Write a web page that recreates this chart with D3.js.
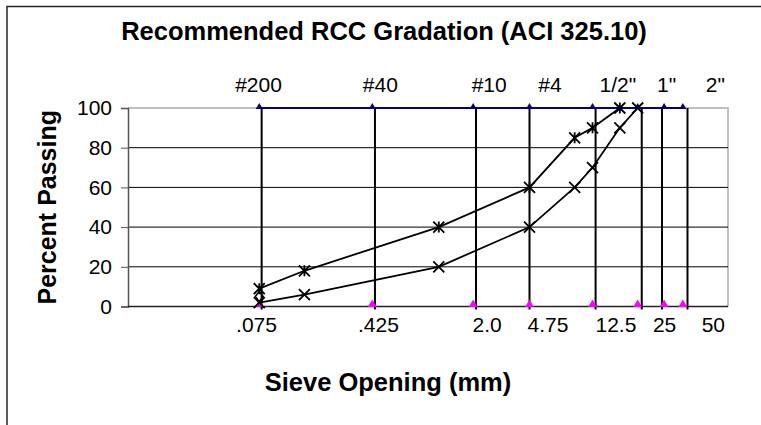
<!DOCTYPE html>
<html>
<head>
<meta charset="utf-8">
<script src="https://cdn.jsdelivr.net/npm/d3@7"></script>
<style>
  html, body { margin: 0; padding: 0; background: #fff; }
  svg { display: block; }
  text { font-family: "Liberation Sans", Arial, sans-serif; }
</style>
</head>
<body>
<svg id="chart" width="761" height="425"></svg>
<script>
// ---- data ----
const chartTitle = "Recommended RCC Gradation (ACI 325.10)";
const yTitle = "Percent Passing";
const xTitle = "Sieve Opening (mm)";

const yTicks = [0, 20, 40, 60, 80, 100];

// sieve marker series (triangles at 100 % and 0 %)
const sieveSizes = [0.075, 0.425, 2.0, 4.75, 12.5, 25, 37.5, 50];
// vertical sieve lines (mm)
const sieveLineSizes = [0.0778, 0.443, 2.09, 4.75, 13.1, 26.6, 36.3, 53.7];

// labels
const labelSizes = [0.075, 0.425, 2.0, 4.75, 12.5, 25, 50];
const bottomLabels = [".075", ".425", "2.0", "4.75", "12.5", "25", "50"];
const topLabels = ["#200", "#40", "#10", "#4", "1/2\"", "1\"", "2\""];

// gradation band limits
const upperSizes   = [0.075, 0.15, 1.18, 4.75, 9.5, 12.5, 19];
const upperPassing = [9, 18, 40, 60, 85, 90, 100];
const lowerSizes   = [0.075, 0.15, 1.18, 4.75, 9.5, 12.5, 19, 25];
const lowerPassing = [2, 6, 20, 40, 60, 70, 90, 100];
// single diamond point
const midSizes = [0.075];
const midPassing = [5];

// ---- layout ----
const svg = d3.select("#chart");
const plot = { left: 128, right: 728, top: 108, bottom: 306.5 };

const x = d3.scaleLog().domain([0.01, 100]).range([plot.left, plot.right]);
const xLab = d3.scaleLog().domain([0.01, 100]).range([115, 762]);
const y = d3.scaleLinear().domain([0, 100]).range([plot.bottom, plot.top]);

// outer frame (top and left edges visible)
svg.append("path")
  .attr("d", "M7,425 L7,6.5 L761,6.5")
  .attr("fill", "none").attr("stroke", "#222").attr("stroke-width", 1.5);

// title
svg.append("text").attr("x", 384).attr("y", 40)
  .attr("text-anchor", "middle").attr("font-size", 25.5).attr("font-weight", "bold")
  .text(chartTitle);

// plot border (light gray top/right)
svg.append("path")
  .attr("d", `M${plot.left},${plot.top} L${plot.right},${plot.top} L${plot.right},${plot.bottom}`)
  .attr("fill", "none").attr("stroke", "#c0c0c0").attr("stroke-width", 2);

// horizontal gridlines
svg.append("g").selectAll("line")
  .data(yTicks.filter(d => d > 0 && d < 100))
  .join("line")
  .attr("x1", plot.left).attr("x2", plot.right)
  .attr("y1", d => y(d)).attr("y2", d => y(d))
  .attr("stroke", "#000").attr("stroke-width", 1);

// y axis
const yAxis = d3.axisLeft(y).tickValues(yTicks).tickSize(7).tickPadding(9);
const gy = svg.append("g").attr("transform", `translate(${plot.left},0)`).call(yAxis);
gy.select(".domain").attr("stroke", "#555").attr("stroke-width", 1.5);
gy.selectAll(".tick line").attr("stroke", "#555");
gy.selectAll(".tick text").attr("font-size", 21).attr("fill", "#000")
  .attr("font-family", "Liberation Sans, Arial, sans-serif");

// bottom axis line
svg.append("line")
  .attr("x1", plot.left).attr("x2", plot.right)
  .attr("y1", plot.bottom).attr("y2", plot.bottom)
  .attr("stroke", "#222").attr("stroke-width", 1.5);

// vertical sieve lines
svg.append("g").selectAll("line")
  .data(sieveLineSizes)
  .join("line")
  .attr("x1", d => x(d)).attr("x2", d => x(d))
  .attr("y1", y(100)).attr("y2", y(0) + 3)
  .attr("stroke", "#000").attr("stroke-width", 2);

// blue line at 100%
svg.append("path")
  .datum(sieveSizes)
  .attr("d", d3.line().x(d => x(d)).y(() => y(100)))
  .attr("fill", "none").attr("stroke", "#000080").attr("stroke-width", 2);

const tri = d3.symbol().type(d3.symbolTriangle);
svg.append("g").selectAll("path")
  .data(sieveSizes)
  .join("path")
  .attr("transform", d => `translate(${x(d)},${y(100) - 1})`)
  .attr("d", tri.size(22)())
  .attr("fill", "#000080");

svg.append("g").selectAll("path")
  .data(sieveSizes)
  .join("path")
  .attr("transform", d => `translate(${x(d)},${y(0) - 2})`)
  .attr("d", tri.size(34)())
  .attr("fill", "#ff00ff");

// gradation curves
const line = d3.line().x(d => x(d[0])).y(d => y(d[1]));
const upper = upperSizes.map((s, i) => [s, upperPassing[i]]);
const lower = lowerSizes.map((s, i) => [s, lowerPassing[i]]);
const mid = midSizes.map((s, i) => [s, midPassing[i]]);

[upper, lower].forEach(data => {
  svg.append("path").datum(data).attr("d", line)
    .attr("fill", "none").attr("stroke", "#000").attr("stroke-width", 1.8);
});

const m = 5.5;
// asterisk markers (upper)
svg.append("g").selectAll("path")
  .data(upper).join("path")
  .attr("transform", d => `translate(${x(d[0])},${y(d[1])})`)
  .attr("d", `M${-m},${-m}L${m},${m}M${-m},${m}L${m},${-m}M0,${-m}L0,${m}`)
  .attr("stroke", "#000").attr("stroke-width", 1.8).attr("fill", "none");
// x markers (lower)
svg.append("g").selectAll("path")
  .data(lower).join("path")
  .attr("transform", d => `translate(${x(d[0])},${y(d[1])})`)
  .attr("d", `M${-m},${-m}L${m},${m}M${-m},${m}L${m},${-m}`)
  .attr("stroke", "#000").attr("stroke-width", 1.8).attr("fill", "none");
// diamond marker
svg.append("g").selectAll("path")
  .data(mid).join("path")
  .attr("transform", d => `translate(${x(d[0])},${y(d[1])})`)
  .attr("d", "M0,-5L4,0L0,5L-4,0Z")
  .attr("stroke", "#000").attr("stroke-width", 1.5).attr("fill", "none");

// labels
svg.append("g").selectAll("text")
  .data(labelSizes).join("text")
  .attr("x", d => xLab(d)).attr("y", 332)
  .attr("text-anchor", "middle").attr("font-size", 21)
  .text((d, i) => bottomLabels[i]);

svg.append("g").selectAll("text")
  .data(labelSizes).join("text")
  .attr("x", d => xLab(d) + 2).attr("y", 92)
  .attr("text-anchor", "middle").attr("font-size", 21)
  .text((d, i) => topLabels[i]);

// axis titles
svg.append("text")
  .attr("transform", `translate(56,${(plot.top + plot.bottom) / 2}) rotate(-90)`)
  .attr("text-anchor", "middle").attr("font-size", 25).attr("font-weight", "bold")
  .text(yTitle);

svg.append("text").attr("x", 388).attr("y", 391)
  .attr("text-anchor", "middle").attr("font-size", 25.5).attr("font-weight", "bold")
  .text(xTitle);
</script>
</body>
</html>
